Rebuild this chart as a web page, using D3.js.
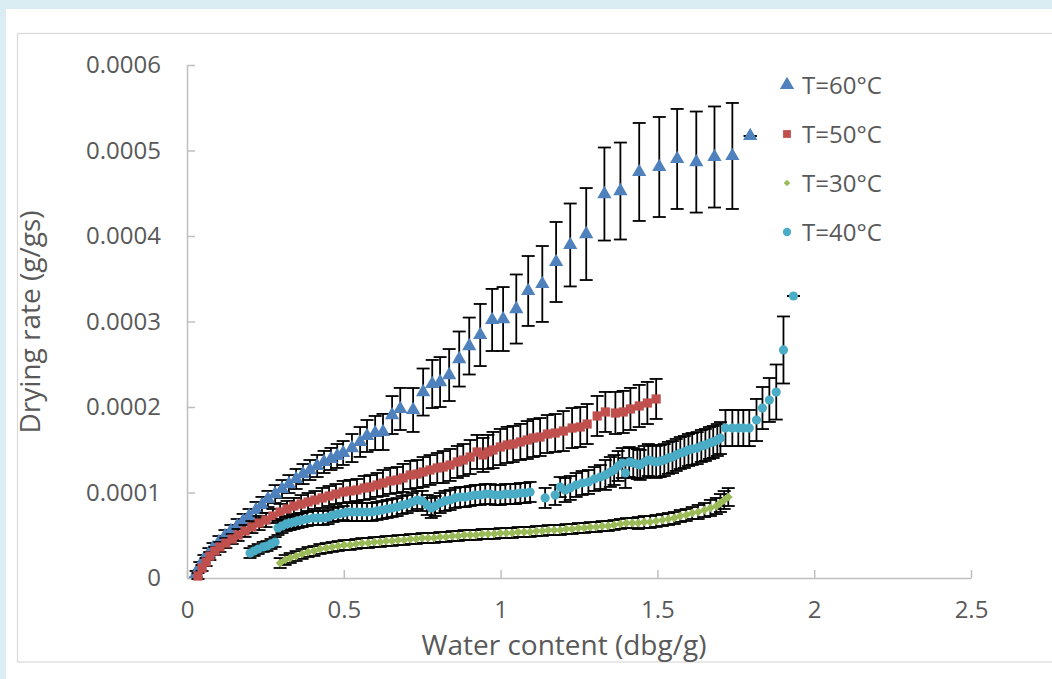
<!DOCTYPE html>
<html><head><meta charset="utf-8">
<script src="https://cdn.jsdelivr.net/npm/d3@7"></script>
<style>
html,body{margin:0;padding:0;background:#daedf3;overflow:hidden;}
svg{display:block;font-family:"Open Sans",sans-serif;}
</style></head><body>
<svg id="chart" width="1052" height="679"></svg>
<script>
// ---------- data ----------
const xTicks = [0, 0.5, 1, 1.5, 2, 2.5];
const xTickLabels = ["0", "0.5", "1", "1.5", "2", "2.5"];
const yTicks = [0, 0.0001, 0.0002, 0.0003, 0.0004, 0.0005, 0.0006];
const yTickLabels = ["0", "0.0001", "0.0002", "0.0003", "0.0004", "0.0005", "0.0006"];
const seriesNames = ["T=60°C", "T=50°C", "T=30°C", "T=40°C"];
const seriesColors = ["#4f81bd", "#c0504d", "#9bbb59", "#4bacc6"];
const xTitle = "Water content (dbg/g)";
const yTitle = "Drying rate (g/gs)";

// T=60°C
const t60X = [0.029,0.041,0.054,0.070,0.083,0.102,0.121,0.140,0.160,0.179,0.198,0.220,0.239,0.258,0.281,0.303,0.325,0.348,0.370,0.392,0.415,0.437,0.459,0.479,0.498,0.526,0.552,0.574,0.600,0.625,0.654,0.680,0.721,0.753,0.782,0.807,0.836,0.868,0.900,0.935,0.973,1.008,1.050,1.088,1.133,1.177,1.222,1.273,1.331,1.382,1.442,1.506,1.563,1.624,1.682,1.739,1.796];
const t60Y = [0.047e-4,0.140e-4,0.222e-4,0.292e-4,0.351e-4,0.421e-4,0.491e-4,0.550e-4,0.608e-4,0.667e-4,0.725e-4,0.795e-4,0.854e-4,0.924e-4,0.982e-4,1.041e-4,1.099e-4,1.158e-4,1.216e-4,1.263e-4,1.310e-4,1.357e-4,1.392e-4,1.427e-4,1.462e-4,1.520e-4,1.591e-4,1.661e-4,1.696e-4,1.708e-4,1.906e-4,1.977e-4,1.965e-4,2.175e-4,2.269e-4,2.292e-4,2.374e-4,2.561e-4,2.713e-4,2.842e-4,3.018e-4,3.029e-4,3.146e-4,3.357e-4,3.439e-4,3.696e-4,3.895e-4,4.023e-4,4.491e-4,4.526e-4,4.749e-4,4.807e-4,4.901e-4,4.865e-4,4.924e-4,4.936e-4,5.170e-4];
const t60Err = [0.035e-4,0.047e-4,0.047e-4,0.058e-4,0.058e-4,0.070e-4,0.070e-4,0.070e-4,0.082e-4,0.082e-4,0.082e-4,0.094e-4,0.094e-4,0.094e-4,0.105e-4,0.105e-4,0.105e-4,0.117e-4,0.117e-4,0.117e-4,0.129e-4,0.129e-4,0.129e-4,0.140e-4,0.140e-4,0.164e-4,0.175e-4,0.187e-4,0.199e-4,0.211e-4,0.222e-4,0.246e-4,0.257e-4,0.275e-4,0.281e-4,0.292e-4,0.304e-4,0.322e-4,0.333e-4,0.363e-4,0.363e-4,0.374e-4,0.404e-4,0.409e-4,0.444e-4,0.468e-4,0.485e-4,0.538e-4,0.544e-4,0.567e-4,0.573e-4,0.585e-4,0.585e-4,0.591e-4,0.591e-4,0.620e-4,0];

// T=50°C
const t50X = [0.035,0.048,0.061,0.073,0.089,0.105,0.124,0.144,0.163,0.185,0.207,0.230,0.252,0.274,0.297,0.319,0.341,0.364,0.386,0.408,0.431,0.453,0.475,0.498,0.520,0.542,0.565,0.584,0.606,0.625,0.648,0.670,0.689,0.712,0.734,0.753,0.775,0.798,0.817,0.839,0.862,0.881,0.903,0.925,0.944,0.960,0.976,0.999,1.021,1.040,1.063,1.085,1.104,1.126,1.149,1.174,1.200,1.228,1.254,1.276,1.308,1.334,1.366,1.391,1.414,1.442,1.468,1.496];
const t50Y = [0.023e-4,0.117e-4,0.187e-4,0.257e-4,0.316e-4,0.363e-4,0.409e-4,0.456e-4,0.503e-4,0.550e-4,0.596e-4,0.643e-4,0.678e-4,0.725e-4,0.772e-4,0.807e-4,0.842e-4,0.865e-4,0.889e-4,0.912e-4,0.936e-4,0.959e-4,0.982e-4,1.006e-4,1.018e-4,1.029e-4,1.053e-4,1.064e-4,1.088e-4,1.111e-4,1.135e-4,1.146e-4,1.170e-4,1.205e-4,1.216e-4,1.240e-4,1.263e-4,1.287e-4,1.298e-4,1.322e-4,1.357e-4,1.380e-4,1.415e-4,1.474e-4,1.439e-4,1.474e-4,1.497e-4,1.532e-4,1.556e-4,1.567e-4,1.591e-4,1.614e-4,1.637e-4,1.649e-4,1.684e-4,1.696e-4,1.719e-4,1.754e-4,1.766e-4,1.801e-4,1.895e-4,1.942e-4,1.930e-4,1.942e-4,1.977e-4,2.012e-4,2.047e-4,2.094e-4];
const t50Err = [0.035e-4,0.035e-4,0.047e-4,0.047e-4,0.047e-4,0.058e-4,0.058e-4,0.058e-4,0.070e-4,0.070e-4,0.070e-4,0.082e-4,0.082e-4,0.082e-4,0.094e-4,0.094e-4,0.094e-4,0.105e-4,0.105e-4,0.105e-4,0.117e-4,0.117e-4,0.117e-4,0.129e-4,0.129e-4,0.129e-4,0.140e-4,0.140e-4,0.140e-4,0.152e-4,0.152e-4,0.152e-4,0.164e-4,0.164e-4,0.164e-4,0.175e-4,0.175e-4,0.175e-4,0.187e-4,0.187e-4,0.187e-4,0.187e-4,0.199e-4,0.199e-4,0.199e-4,0.199e-4,0.211e-4,0.211e-4,0.211e-4,0.211e-4,0.211e-4,0.222e-4,0.222e-4,0.222e-4,0.222e-4,0.222e-4,0.234e-4,0.234e-4,0.234e-4,0.234e-4,0.234e-4,0.234e-4,0.246e-4,0.246e-4,0.246e-4,0.246e-4,0.246e-4,0.234e-4];

// T=30°C
const t30X = [0.297,0.313,0.329,0.348,0.367,0.386,0.405,0.424,0.444,0.463,0.482,0.501,0.520,0.539,0.558,0.578,0.597,0.616,0.635,0.654,0.673,0.692,0.712,0.731,0.750,0.769,0.788,0.807,0.826,0.846,0.865,0.884,0.903,0.922,0.941,0.960,0.980,0.999,1.018,1.037,1.056,1.075,1.094,1.114,1.133,1.152,1.171,1.190,1.209,1.228,1.248,1.267,1.286,1.305,1.324,1.343,1.362,1.382,1.401,1.420,1.439,1.458,1.477,1.496,1.516,1.535,1.554,1.573,1.592,1.611,1.630,1.650,1.669,1.688,1.701,1.713,1.726];
const t30Y = [0.175e-4,0.211e-4,0.234e-4,0.257e-4,0.281e-4,0.304e-4,0.316e-4,0.339e-4,0.351e-4,0.363e-4,0.374e-4,0.386e-4,0.386e-4,0.398e-4,0.409e-4,0.409e-4,0.421e-4,0.421e-4,0.433e-4,0.433e-4,0.444e-4,0.444e-4,0.456e-4,0.456e-4,0.468e-4,0.468e-4,0.468e-4,0.480e-4,0.480e-4,0.491e-4,0.491e-4,0.503e-4,0.503e-4,0.503e-4,0.515e-4,0.515e-4,0.515e-4,0.526e-4,0.526e-4,0.526e-4,0.538e-4,0.538e-4,0.538e-4,0.550e-4,0.550e-4,0.561e-4,0.561e-4,0.561e-4,0.573e-4,0.573e-4,0.585e-4,0.585e-4,0.596e-4,0.596e-4,0.608e-4,0.608e-4,0.620e-4,0.632e-4,0.643e-4,0.643e-4,0.643e-4,0.655e-4,0.655e-4,0.667e-4,0.678e-4,0.690e-4,0.702e-4,0.725e-4,0.737e-4,0.760e-4,0.772e-4,0.795e-4,0.819e-4,0.842e-4,0.877e-4,0.912e-4,0.947e-4];
const t30Err = [0.058e-4,0.058e-4,0.058e-4,0.058e-4,0.058e-4,0.058e-4,0.058e-4,0.058e-4,0.058e-4,0.058e-4,0.058e-4,0.058e-4,0.058e-4,0.058e-4,0.058e-4,0.058e-4,0.058e-4,0.058e-4,0.058e-4,0.058e-4,0.058e-4,0.058e-4,0.058e-4,0.058e-4,0.058e-4,0.058e-4,0.058e-4,0.058e-4,0.058e-4,0.058e-4,0.058e-4,0.058e-4,0.058e-4,0.058e-4,0.058e-4,0.058e-4,0.058e-4,0.058e-4,0.058e-4,0.058e-4,0.058e-4,0.058e-4,0.058e-4,0.058e-4,0.058e-4,0.058e-4,0.058e-4,0.058e-4,0.058e-4,0.058e-4,0.058e-4,0.058e-4,0.058e-4,0.058e-4,0.058e-4,0.058e-4,0.058e-4,0.058e-4,0.058e-4,0.058e-4,0.070e-4,0.070e-4,0.070e-4,0.070e-4,0.070e-4,0.070e-4,0.070e-4,0.070e-4,0.070e-4,0.070e-4,0.082e-4,0.082e-4,0.094e-4,0.094e-4,0.105e-4,0.105e-4,0.105e-4];

// T=40°C
const t40X = [0.201,0.214,0.227,0.243,0.255,0.268,0.281,0.290,0.303,0.316,0.329,0.341,0.354,0.367,0.383,0.402,0.418,0.434,0.450,0.466,0.482,0.498,0.511,0.526,0.542,0.558,0.574,0.590,0.606,0.622,0.638,0.654,0.670,0.686,0.702,0.718,0.734,0.750,0.766,0.779,0.791,0.807,0.823,0.839,0.855,0.871,0.887,0.903,0.919,0.935,0.951,0.967,0.983,0.999,1.015,1.031,1.047,1.063,1.078,1.094,1.142,1.174,1.190,1.206,1.222,1.241,1.260,1.280,1.299,1.318,1.334,1.350,1.362,1.375,1.388,1.398,1.410,1.423,1.436,1.445,1.458,1.471,1.484,1.496,1.509,1.522,1.535,1.548,1.560,1.573,1.586,1.599,1.611,1.627,1.640,1.653,1.666,1.678,1.691,1.701,1.717,1.739,1.758,1.774,1.793,1.816,1.835,1.857,1.879,1.902,1.934];
const t40Y = [0.292e-4,0.316e-4,0.339e-4,0.363e-4,0.374e-4,0.398e-4,0.421e-4,0.585e-4,0.608e-4,0.632e-4,0.643e-4,0.655e-4,0.667e-4,0.678e-4,0.690e-4,0.702e-4,0.702e-4,0.702e-4,0.713e-4,0.737e-4,0.749e-4,0.760e-4,0.772e-4,0.772e-4,0.772e-4,0.772e-4,0.772e-4,0.772e-4,0.784e-4,0.795e-4,0.807e-4,0.819e-4,0.830e-4,0.854e-4,0.865e-4,0.889e-4,0.912e-4,0.901e-4,0.854e-4,0.819e-4,0.842e-4,0.877e-4,0.901e-4,0.912e-4,0.936e-4,0.947e-4,0.947e-4,0.959e-4,0.971e-4,0.971e-4,0.982e-4,0.982e-4,0.971e-4,0.971e-4,0.982e-4,0.982e-4,0.982e-4,0.994e-4,0.994e-4,1.006e-4,0.936e-4,0.971e-4,1.064e-4,1.029e-4,1.053e-4,1.088e-4,1.111e-4,1.123e-4,1.158e-4,1.181e-4,1.205e-4,1.240e-4,1.263e-4,1.310e-4,1.345e-4,1.228e-4,1.357e-4,1.345e-4,1.333e-4,1.322e-4,1.357e-4,1.380e-4,1.368e-4,1.357e-4,1.368e-4,1.380e-4,1.404e-4,1.415e-4,1.439e-4,1.462e-4,1.474e-4,1.497e-4,1.509e-4,1.520e-4,1.544e-4,1.556e-4,1.579e-4,1.591e-4,1.614e-4,1.637e-4,1.754e-4,1.754e-4,1.754e-4,1.754e-4,1.754e-4,1.848e-4,1.988e-4,2.082e-4,2.175e-4,2.667e-4,3.298e-4];
const t40Err = [0.058e-4,0.058e-4,0.058e-4,0.058e-4,0.058e-4,0.058e-4,0.058e-4,0.082e-4,0.082e-4,0.082e-4,0.082e-4,0.082e-4,0.082e-4,0.082e-4,0.082e-4,0.082e-4,0.082e-4,0.082e-4,0.082e-4,0.082e-4,0.082e-4,0.082e-4,0.105e-4,0.105e-4,0.105e-4,0.105e-4,0.105e-4,0.105e-4,0.105e-4,0.105e-4,0.105e-4,0.105e-4,0.105e-4,0.105e-4,0.105e-4,0.105e-4,0.105e-4,0.117e-4,0.117e-4,0.117e-4,0.117e-4,0.117e-4,0.117e-4,0.117e-4,0.117e-4,0.117e-4,0.117e-4,0.117e-4,0.117e-4,0.117e-4,0.117e-4,0.117e-4,0.117e-4,0.117e-4,0.117e-4,0.117e-4,0.117e-4,0.117e-4,0.117e-4,0.117e-4,0.117e-4,0.117e-4,0.117e-4,0.140e-4,0.140e-4,0.140e-4,0.140e-4,0.140e-4,0.140e-4,0.140e-4,0.175e-4,0.175e-4,0.175e-4,0.175e-4,0.175e-4,0.175e-4,0.175e-4,0.175e-4,0.175e-4,0.175e-4,0.187e-4,0.187e-4,0.187e-4,0.187e-4,0.187e-4,0.187e-4,0.187e-4,0.187e-4,0.187e-4,0.187e-4,0.187e-4,0.187e-4,0.187e-4,0.187e-4,0.187e-4,0.187e-4,0.187e-4,0.187e-4,0.187e-4,0.187e-4,0.211e-4,0.211e-4,0.211e-4,0.211e-4,0.211e-4,0.246e-4,0.246e-4,0.257e-4,0.322e-4,0.392e-4,0];

// ---------- chart ----------
const series = [
  {name: seriesNames[0], color: seriesColors[0], shape: "triangle", xs: t60X, ys: t60Y, es: t60Err},
  {name: seriesNames[1], color: seriesColors[1], shape: "square",   xs: t50X, ys: t50Y, es: t50Err},
  {name: seriesNames[2], color: seriesColors[2], shape: "diamond",  xs: t30X, ys: t30Y, es: t30Err},
  {name: seriesNames[3], color: seriesColors[3], shape: "circle",   xs: t40X, ys: t40Y, es: t40Err}
];

const svg = d3.select("#chart");
const textColor = "#595959";
const axisColor = "#bfbfbf";

svg.append("rect").attr("x", 6).attr("y", 9).attr("width", 1046).attr("height", 670).attr("fill", "#ffffff");
svg.append("rect").attr("x", 17.5).attr("y", 33.5).attr("width", 1050).attr("height", 628.5)
  .attr("fill", "none").attr("stroke", "#d9d9d9").attr("stroke-width", 1.2);

const x = d3.scaleLinear().domain([0, 2.5]).range([187, 971]);
const y = d3.scaleLinear().domain([0, 0.0006]).range([578, 65]);

const gx = svg.append("g").attr("transform", "translate(0,578)")
  .call(d3.axisBottom(x).tickValues(xTicks).tickFormat((d, i) => xTickLabels[i])
    .tickSizeInner(-8).tickSizeOuter(0).tickPadding(23));
const gy = svg.append("g").attr("transform", "translate(187,0)")
  .call(d3.axisLeft(y).tickValues(yTicks).tickFormat((d, i) => yTickLabels[i])
    .tickSizeInner(-8).tickSizeOuter(0).tickPadding(26));
[gx, gy].forEach(g => {
  g.attr("font-family", "'Open Sans', sans-serif").attr("font-size", 24);
  g.selectAll("path,line").attr("stroke", axisColor).attr("stroke-width", 1.5);
  g.selectAll("text").attr("fill", textColor);
});

svg.append("text").attr("x", 564).attr("y", 655).attr("text-anchor", "middle")
  .attr("font-size", 28).attr("fill", textColor).text(xTitle);
svg.append("text").attr("transform", "translate(40,322) rotate(-90)").attr("text-anchor", "middle")
  .attr("font-size", 28).attr("fill", textColor).text(yTitle);

function drawMarker(g, shape, color, cx, cy, scale) {
  const s = scale || 1;
  if (shape === "triangle") {
    g.append("path").attr("d", d3.symbol(d3.symbolTriangle, 88 * s * s)())
      .attr("transform", `translate(${cx},${cy})`).attr("fill", color);
  } else if (shape === "square") {
    const h = 4.6 * s;
    g.append("rect").attr("x", cx - h).attr("y", cy - h).attr("width", 2 * h).attr("height", 2 * h).attr("fill", color);
  } else if (shape === "diamond") {
    const h = 4.4 * s;
    g.append("path").attr("d", `M${cx},${cy - h}L${cx + h},${cy}L${cx},${cy + h}L${cx - h},${cy}Z`).attr("fill", color);
  } else {
    g.append("circle").attr("cx", cx).attr("cy", cy).attr("r", 4.6 * s).attr("fill", color);
  }
}

const plot = svg.append("g");
series.forEach(s => {
  const g = plot.append("g");
  const eb = g.append("g").attr("stroke", "#000").attr("stroke-width", 1.8).attr("fill", "none");
  s.xs.forEach((xv, i) => {
    const px = x(xv), lo = y(s.ys[i] - s.es[i]), hi = y(s.ys[i] + s.es[i]);
    eb.append("line").attr("x1", px).attr("x2", px).attr("y1", lo).attr("y2", hi);
    eb.append("line").attr("x1", px - 6.5).attr("x2", px + 6.5).attr("y1", lo).attr("y2", lo);
    eb.append("line").attr("x1", px - 6.5).attr("x2", px + 6.5).attr("y1", hi).attr("y2", hi);
  });
  const mk = g.append("g");
  s.xs.forEach((xv, i) => drawMarker(mk, s.shape, s.color, x(xv), y(s.ys[i])));
});

// legend
const legend = svg.append("g");
const legendScale = [1, 0.85, 0.75, 0.9];
series.forEach((s, i) => {
  const cy = 85 + i * 49;
  drawMarker(legend, s.shape, s.color, 787, cy, legendScale[i]);
  legend.append("text").attr("x", 802).attr("y", cy + 8.5).attr("font-size", 24)
    .attr("fill", textColor).text(s.name);
});
</script>
</body></html>
